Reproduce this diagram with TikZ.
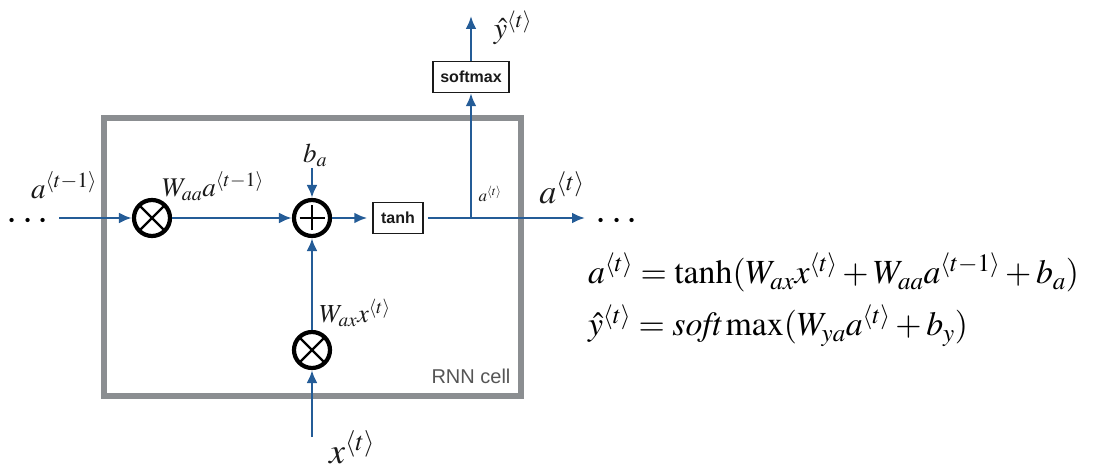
\documentclass[tikz,border=0pt]{standalone}
\usepackage{mathptmx}
\usepackage[no-math]{fontspec}
\newfontfamily\cellfont{Liberation Sans}
\usetikzlibrary{arrows.meta,positioning}
\definecolor{RNBlue}{HTML}{245C97}
\definecolor{RNGray}{HTML}{8B8E91}
\definecolor{RNText}{HTML}{555555}
\definecolor{RNInk}{HTML}{1A1A1A}
\tikzset{
  sig/.style={-{Latex[length=13pt,width=11pt]},RNBlue,line width=2.9pt},
  cell/.style={draw=RNGray,line width=5.5pt},
  op/.style={circle,draw=black,line width=4.2pt,minimum size=36pt,inner sep=0pt},
  opmul/.style={op,path picture={\draw[line width=2.2pt]
      ([shift={(-12.5pt,-12.5pt)}]path picture bounding box.center) -- ++(25pt,25pt)
      ([shift={(-12.5pt,12.5pt)}]path picture bounding box.center) -- ++(25pt,-25pt);}},
  opadd/.style={op,path picture={\draw[line width=2.2pt]
      ([shift={(-12.5pt,0pt)}]path picture bounding box.center) -- ++(25pt,0pt)
      ([shift={(0pt,-12.5pt)}]path picture bounding box.center) -- ++(0pt,25pt);}},
  fnbox/.style={draw=RNInk,line width=1.5pt,fill=white,inner sep=0pt,
                font=\cellfont\fontsize{16}{18}\selectfont\bfseries,text=RNInk},
  lbl/.style={inner sep=0pt,text=RNInk},
  dots/.style={inner sep=0pt,font=\fontsize{40}{40}\selectfont},
  eqline/.style={anchor=base west,inner sep=0pt,font=\fontsize{33.8}{38}\selectfont},
}

\begin{document}
\begin{tikzpicture}[x=1pt,y=-1pt]
    \useasboundingbox (0,0) rectangle (1093,470);

    % cell frame
    \draw[cell] (104,118) rectangle (521,396);
    \node[text=RNText,font=\cellfont\fontsize{20}{24}\selectfont] (cellname) at (471,376) {RNN cell};

    % operators and boxes
    \node[dots] (prevdots) at (28,222) {$\cdots$};
    \node[opmul] (mulprev) at (152,218) {};
    \node[opadd] (add) at (312,218) {};
    \node[fnbox,minimum width=50pt,minimum height=31pt] (tanh) at (398,218) {tanh};
    \coordinate (branch) at (471,218);
    \node[fnbox,minimum width=76pt,minimum height=31pt] (softmax) at (471,77) {softmax};
    \coordinate (yout) at (471,16);
    \coordinate (aout) at (585,218);
    \node[dots] (nextdots) at (617,222) {$\cdots$};
    \node[opmul] (mulx) at (312,350) {};
    \coordinate (xin) at (312,437);
    \coordinate (bin) at (312,168);

    % signal flow
    \draw[sig] ([xshift=10pt]prevdots.east |- mulprev) -- (mulprev.west);
    \draw[sig] (mulprev.east) -- (add.west);
    \draw[sig,shorten >=5pt] (add.east) -- (tanh.west);
    \draw[sig] ([xshift=4pt]tanh.east) -- (aout);
    \draw[sig] (branch) -- (softmax.south);
    \draw[sig] (softmax.north) -- (yout);
    \draw[sig] (bin) -- (add.north);
    \draw[sig] (mulx.north) -- (add.south);
    \draw[sig] (xin) -- (mulx.south);

    % labels
    \node[lbl,font=\fontsize{29}{32}\selectfont] (aprevlbl) at (64,185) {$a^{\langle t-1\rangle}$};
    \node[lbl,font=\fontsize{27}{30}\selectfont] (waalbl) at (213,186) {$W_{aa}a^{\langle t-1\rangle}$};
    \node[lbl,font=\fontsize{27}{28}\selectfont] (blbl) at (315,155) {$b_a$};
    \node[lbl,font=\fontsize{26}{28}\selectfont] (waxlbl) at (355,313) {$W_{ax}x^{\langle t\rangle}$};
    \node[lbl,font=\fontsize{36}{38}\selectfont] (xlbl) at (352,447) {$x^{\langle t\rangle}$};
    \node[lbl,font=\fontsize{17}{19}\selectfont] (asmall) at (490,194) {$a^{\langle t\rangle}$};
    \node[lbl,font=\fontsize{34}{36}\selectfont] (alblbig) at (562,188) {$a^{\langle t\rangle}$};
    \node[lbl,font=\fontsize{30}{32}\selectfont] (ylbl) at (513,28) {$\hat{y}^{\langle t\rangle}$};

    % equations
    \node[eqline] (eqa) at (588,284)
      {$a^{\langle t\rangle}=\tanh(W_{ax}x^{\langle t\rangle}+W_{aa}a^{\langle t-1\rangle}+b_a)$};
    \node[eqline] (eqy) at (588,336)
      {$\hat{y}^{\langle t\rangle}=\mathit{soft}\max(W_{ya}a^{\langle t\rangle}+b_y)$};
  \end{tikzpicture}
\end{document}
